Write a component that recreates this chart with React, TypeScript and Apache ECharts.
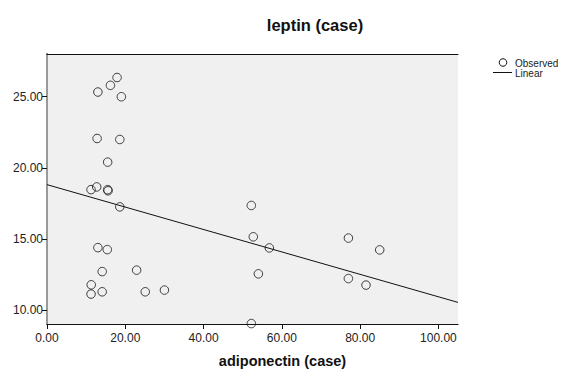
import React, { useEffect, useRef } from "react";
import * as echarts from "echarts";

const adiponectin = [17.9, 16.2, 13.0, 19.0, 12.8, 18.6, 15.5, 11.25, 12.7, 15.5, 15.6, 18.6, 13.0, 15.4, 14.1, 22.9, 11.3, 11.25, 14.1, 25.1, 30.0, 52.2, 52.7, 56.8, 54.0, 52.2, 77.0, 85.0, 77.0, 81.5];
const leptin = [26.35, 25.8, 25.33, 25.0, 22.07, 22.0, 20.41, 18.48, 18.67, 18.48, 18.4, 17.27, 14.41, 14.27, 12.73, 12.83, 11.8, 11.15, 11.31, 11.31, 11.43, 17.37, 15.17, 14.39, 12.57, 9.08, 15.08, 14.25, 12.24, 11.78];

const fitIntercept = 18.83;
const fitSlope = -0.0787;
const xRange = [0, 105];
const yRange = [9.05, 28.0];
const yTicks = [10, 15, 20, 25];
const legendNames = ["Observed", "Linear"];

const FONT = "'Liberation Sans', Arial, sans-serif";

export default function App() {
  const ref = useRef<HTMLDivElement>(null);
  useEffect(() => {
    if (!ref.current) return;
    const chart = echarts.init(ref.current, undefined, { renderer: "svg" });
    const points = adiponectin.map((x, i) => [x, leptin[i]]);
    const linePts = xRange.map((x) => [x, fitIntercept + fitSlope * x]);
    chart.setOption({
      animation: false,
      backgroundColor: "#ffffff",
      title: {
        text: "leptin (case)",
        left: 310,
        textAlign: "center",
        top: 11,
        textStyle: { fontFamily: FONT, fontSize: 16.5, fontWeight: "bold", color: "#111" },
      },
      graphic: [
        {
          type: "circle",
          shape: { cx: 503, cy: 62.5, r: 3.8 },
          style: { fill: "none", stroke: "#111", lineWidth: 1 },
        },
        {
          type: "text",
          x: 515,
          y: 63,
          style: { text: legendNames[0], font: `10px ${FONT}`, fill: "#222", textVerticalAlign: "middle" },
        },
        {
          type: "line",
          shape: { x1: 493, y1: 72.5, x2: 512, y2: 72.5 },
          style: { stroke: "#111", lineWidth: 1 },
        },
        {
          type: "text",
          x: 515,
          y: 73.8,
          style: { text: legendNames[1], font: `10px ${FONT}`, fill: "#222", textVerticalAlign: "middle" },
        },
      ],
      grid: {
        left: 47,
        right: 117,
        top: 54,
        bottom: 61,
        show: true,
        backgroundColor: "#f0f0f0",
        borderWidth: 0,
      },
      xAxis: [
        {
          type: "value",
          min: xRange[0],
          max: xRange[1],
          interval: 20,
          name: "adiponectin (case)",
          nameLocation: "middle",
          nameGap: 29,
          nameTextStyle: {
            fontFamily: FONT,
            fontSize: 14.5,
            fontWeight: "bold",
            color: "#111",
            padding: [0, 0, 0, 60],
          },
          splitLine: { show: false },
          axisLine: { lineStyle: { color: "#111", width: 1 } },
          axisTick: { length: 5, lineStyle: { color: "#111" } },
          axisLabel: {
            fontFamily: FONT,
            fontSize: 12,
            color: "#222",
            margin: 8,
            formatter: (v: number) => v.toFixed(2),
          },
        },
        {
          type: "value",
          position: "top",
          min: xRange[0],
          max: xRange[1],
          axisLine: { show: true, lineStyle: { color: "#111", width: 1 } },
          axisTick: { show: false },
          axisLabel: { show: false },
          splitLine: { show: false },
        },
      ],
      yAxis: [
        {
          type: "value",
          min: yRange[0],
          max: yRange[1],
          splitLine: { show: false },
          axisLine: { show: true, lineStyle: { color: "#444", width: 2 } },
          axisTick: { show: true, length: 5, lineStyle: { color: "#111" }, customValues: yTicks },
          axisLabel: {
            fontFamily: FONT,
            fontSize: 12,
            color: "#222",
            margin: 4,
            customValues: yTicks,
            formatter: (v: number) => v.toFixed(2),
          },
        },
        {
          type: "value",
          position: "right",
          min: yRange[0],
          max: yRange[1],
          axisLine: { show: true, lineStyle: { color: "#999", width: 2 } },
          axisTick: { show: false },
          axisLabel: { show: false },
          splitLine: { show: false },
        },
      ],
      series: [
        {
          name: "Observed",
          type: "scatter",
          data: points,
          symbol: "circle",
          symbolSize: 8.5,
          clip: true,
          itemStyle: { color: "rgba(0,0,0,0)", borderColor: "#111", borderWidth: 1 },
        },
        {
          name: "Linear",
          type: "line",
          data: linePts,
          symbol: "none",
          lineStyle: { color: "#111", width: 1 },
          itemStyle: { color: "#111" },
        },
      ],
    });
    return () => chart.dispose();
  }, []);
  return <div ref={ref} style={{ width: 575, height: 385, position: "absolute", left: 0, top: 0 }} />;
}
